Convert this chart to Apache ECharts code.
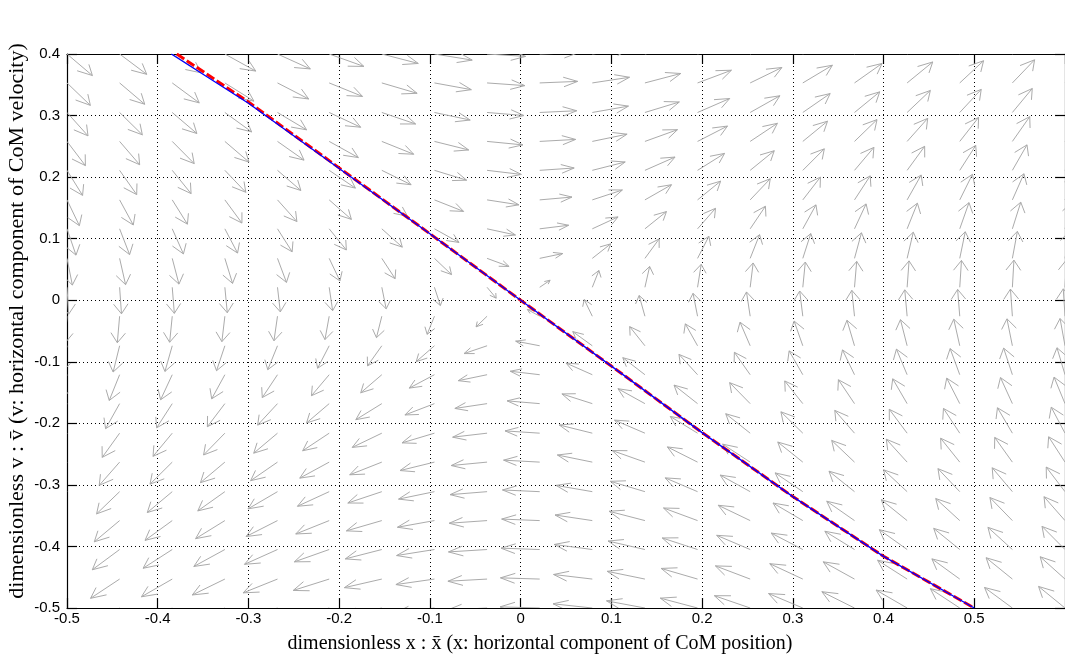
<!DOCTYPE html>
<html>
<head>
<meta charset="utf-8">
<script src="https://cdn.jsdelivr.net/npm/echarts@6/dist/echarts.min.js"></script>
<style>
html,body{margin:0;padding:0;background:#fff;}
#chart{width:1065px;height:661px;}
</style>
</head>
<body>
<div id="chart"></div>
<script>
// ---- data ----
// quiver grid (column positions in x, row positions in v)
const xGrid = [-0.5, -0.442, -0.384, -0.326, -0.268, -0.211, -0.153, -0.095, -0.037, 0.021,
               0.079, 0.137, 0.195, 0.253, 0.311, 0.368, 0.426, 0.484, 0.542, 0.6];
const vGrid = [-0.5, -0.453, -0.405, -0.358, -0.311, -0.263, -0.216, -0.168, -0.121, -0.074,
               -0.026, 0.021, 0.068, 0.116, 0.163, 0.211, 0.258, 0.305, 0.353, 0.4];
// horizontal arrow component for each row, vertical component for each column
const uByRow = [-0.5, -0.453, -0.405, -0.358, -0.311, -0.263, -0.216, -0.168, -0.121, -0.074,
                -0.026, 0.021, 0.068, 0.116, 0.163, 0.211, 0.258, 0.305, 0.353, 0.4];
const wByCol = [-0.5, -0.442, -0.384, -0.326, -0.268, -0.211, -0.153, -0.095, -0.037, 0.021,
                0.079, 0.137, 0.195, 0.253, 0.311, 0.368, 0.426, 0.484, 0.542, 0.6];
// blue solid curve
const blueX = [-0.385, -0.3, -0.2, -0.1, 0, 0.1, 0.2, 0.3, 0.4, 0.5];
const blueV = [0.4, 0.32, 0.214, 0.108, 0, -0.107, -0.215, -0.319, -0.416, -0.5];
// red dashed curve
const redX = [-0.379, -0.3, -0.2, -0.1, 0, 0.1, 0.2, 0.3, 0.4, 0.5];
const redV = [0.4, 0.322, 0.215, 0.108, 0, -0.107, -0.215, -0.319, -0.416, -0.5];
// axis ticks
const xTicks = {min: -0.5, max: 0.6, step: 0.1};
const yTicks = {min: -0.5, max: 0.4, step: 0.1};
const xTitle = 'dimensionless x : x\u0304 (x: horizontal component of CoM position)';
const yTitle = 'dimensionless v : v\u0304 (v: horizontal component of CoM velocity)';

// ---- build ----
const quiverData = [];
for (let i = 0; i < xGrid.length; i++) {
  for (let j = 0; j < vGrid.length; j++) {
    quiverData.push([xGrid[i], vGrid[j], uByRow[j], wByCol[i]]);
  }
}
const pair = (xs, ys) => xs.map((x, k) => [x, ys[k]]);

const chart = echarts.init(document.getElementById('chart'), null, {renderer: 'canvas'});
const ARROW_K = 0.049, ARROW_C = 0.06, ALPHA = 0.37, BETA = 0.5;
const arrowColor = '#ababab';

function renderArrow(params, api) {
  const x = api.value(0), y = api.value(1), u = api.value(2), w = api.value(3);
  const m = Math.sqrt(u * u + w * w);
  if (m === 0) return null;
  const L = ARROW_K * m / (m + ARROW_C);
  const uu = L * u / m, ww = L * w / m;
  const hx = x + uu, hy = y + ww;
  const p0 = api.coord([x, y]);
  const p1 = api.coord([hx, hy]);
  const a1 = api.coord([hx - ALPHA * (uu + BETA * ww), hy - ALPHA * (ww - BETA * uu)]);
  const a2 = api.coord([hx - ALPHA * (uu - BETA * ww), hy - ALPHA * (ww + BETA * uu)]);
  const style = {stroke: arrowColor, lineWidth: 1, fill: null};
  return {
    type: 'group',
    children: [
      {type: 'polyline', shape: {points: [p0, p1]}, style: style},
      {type: 'polyline', shape: {points: [a1, p1, a2]}, style: style}
    ]
  };
}

const labelFont = {color: '#000', fontFamily: '"Liberation Sans", Arial, sans-serif', fontSize: 15};
const dotted = {color: '#000', width: 1, type: [1, 3]};

const option = {
  animation: false,
  backgroundColor: '#fff',
  grid: {left: 67, right: -3, top: 54, bottom: 53, containLabel: false},
  xAxis: [
    {type: 'value', min: xTicks.min, max: xTicks.max, interval: xTicks.step, position: 'bottom',
     axisLine: {show: true, onZero: false, lineStyle: {color: '#000', width: 1.2}},
     axisTick: {show: true, inside: true, length: 10, lineStyle: {color: '#000', width: 1.2}},
     axisLabel: {show: true, margin: 3, showMaxLabel: false, ...labelFont},
     splitLine: {show: true, lineStyle: dotted}},
    {type: 'value', min: xTicks.min, max: xTicks.max, interval: xTicks.step, position: 'top',
     axisLine: {show: true, onZero: false, lineStyle: {color: '#000', width: 1.2}},
     axisTick: {show: true, inside: true, length: 10, lineStyle: {color: '#000', width: 1.2}},
     axisLabel: {show: false}, splitLine: {show: false}}
  ],
  yAxis: [
    {type: 'value', min: yTicks.min, max: yTicks.max, interval: yTicks.step, position: 'left',
     axisLine: {show: true, onZero: false, lineStyle: {color: '#000', width: 1.2}},
     axisTick: {show: true, inside: true, length: 10, lineStyle: {color: '#000', width: 1.2}},
     axisLabel: {show: true, margin: 7, ...labelFont},
     splitLine: {show: true, lineStyle: dotted}},
    {type: 'value', min: yTicks.min, max: yTicks.max, interval: yTicks.step, position: 'right',
     axisLine: {show: true, onZero: false, lineStyle: {color: '#000', width: 1.2}},
     axisTick: {show: true, inside: true, length: 10, lineStyle: {color: '#000', width: 1.2}},
     axisLabel: {show: false}, splitLine: {show: false}}
  ],
  series: [
    {type: 'custom', name: 'field', renderItem: renderArrow, data: quiverData, clip: true,
     xAxisIndex: 0, yAxisIndex: 0, silent: true, z: 1},
    {type: 'line', name: 'red', data: pair(redX, redV), showSymbol: false, clip: true,
     lineStyle: {color: '#ff0000', width: 3, type: [9, 3]}, z: 3},
    {type: 'line', name: 'blue', data: pair(blueX, blueV), showSymbol: false, clip: true,
     lineStyle: {color: '#0000ff', width: 1.4}, z: 4}
  ],
  graphic: [
    {type: 'text', x: 540, y: 644, style: {text: xTitle, fill: '#000',
      font: '20px "Liberation Serif", "Times New Roman", serif', textAlign: 'center', textVerticalAlign: 'middle'}},
    {type: 'text', x: 17, y: 321, rotation: Math.PI / 2, style: {text: yTitle, fill: '#000',
      font: '22px "Liberation Serif", "Times New Roman", serif', textAlign: 'center', textVerticalAlign: 'middle'}}
  ]
};
chart.setOption(option);
</script>
</body>
</html>
